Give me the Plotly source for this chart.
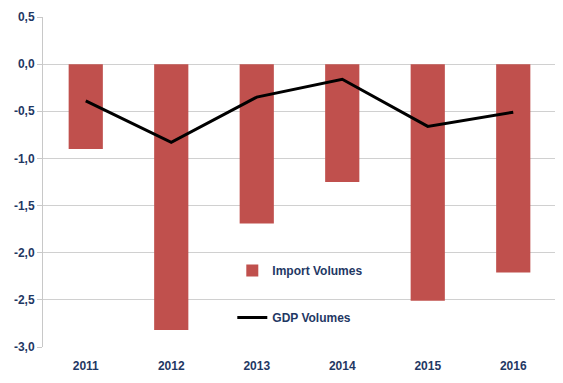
import plotly.graph_objects as go

years = ["2011", "2012", "2013", "2014", "2015", "2016"]
import_volumes = [-0.90, -2.82, -1.69, -1.25, -2.51, -2.21]
gdp_volumes = [-0.39, -0.83, -0.35, -0.16, -0.66, -0.51]
y_ticks = [0.5, 0.0, -0.5, -1.0, -1.5, -2.0, -2.5, -3.0]
y_tick_labels = ["0,5", "0,0", "-0,5", "-1,0", "-1,5", "-2,0", "-2,5", "-3,0"]

navy = "#1F3864"
font_family = "Liberation Sans, Arial, sans-serif"

fig = go.Figure()
fig.add_trace(go.Bar(
    x=years, y=import_volumes, name="Import Volumes",
    marker=dict(color="#C0504D", line=dict(width=0)),
    width=0.4, legendgroup="a",
))
fig.add_trace(go.Scatter(
    x=years, y=gdp_volumes, name="GDP Volumes", mode="lines",
    line=dict(color="black", width=3), legendgroup="b",
))

fig.update_layout(
    width=555, height=375,
    margin=dict(l=35, r=7, t=9, b=36),
    paper_bgcolor="white", plot_bgcolor="white",
    separators=",.",
    font=dict(family=font_family, color=navy, size=12),
    showlegend=True,
    legend=dict(
        x=0.369, y=0.276, xanchor="left", yanchor="top",
        bgcolor="rgba(0,0,0,0)", tracegroupgap=28,
        font=dict(size=12, color=navy, family=font_family, weight="bold"),
        itemwidth=30,
    ),
    xaxis=dict(
        showgrid=False, showline=False, ticks="", automargin=False,
        ticklabelstandoff=10,
        tickfont=dict(size=12, color=navy, family=font_family, weight="bold"),
    ),
    yaxis=dict(
        range=[-3.0, 0.5], tickvals=y_ticks,
        ticktext=["<b>" + t + "</b>" for t in y_tick_labels],
        showgrid=True, gridcolor="#D0D0D0", gridwidth=1,
        showline=True, linecolor="#C8C8C8", linewidth=1,
        ticks="outside", ticklen=5, tickcolor="#C8C8C8",
        zeroline=False, automargin=False,
        tickfont=dict(size=12, color=navy, family=font_family, weight="bold"),
    ),
    bargap=0.6,
)

fig.write_html("out.html")
